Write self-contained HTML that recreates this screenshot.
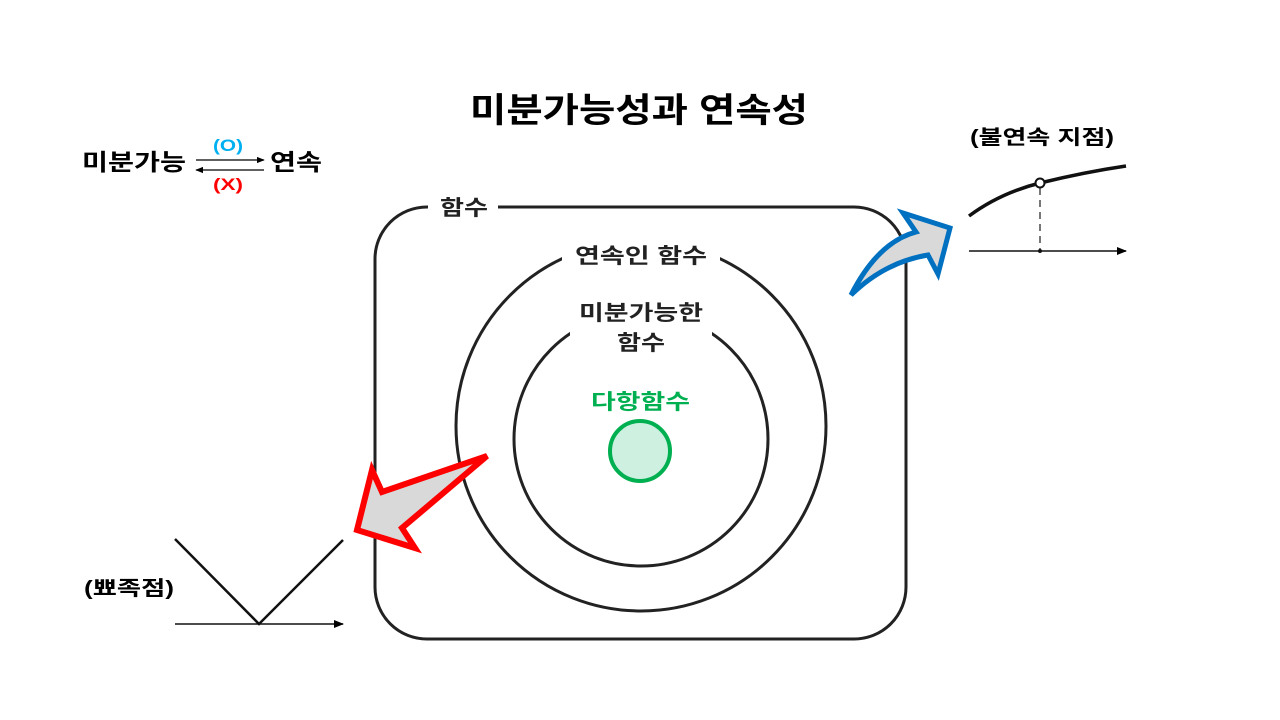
<!DOCTYPE html>
<html><head><meta charset="utf-8"><style>
html,body{margin:0;padding:0;background:#fff;width:1280px;height:720px;overflow:hidden}
svg text{font-family:"Liberation Sans","Noto Sans CJK KR","NanumGothic",sans-serif;font-weight:bold}
</style></head><body>
<svg width="1280" height="720" viewBox="0 0 1280 720" xmlns="http://www.w3.org/2000/svg">
<defs>
<marker id="ah" viewBox="0 0 10 10" refX="9" refY="5" markerWidth="8" markerHeight="8" markerUnits="userSpaceOnUse" orient="auto"><path d="M0,1 L10,5 L0,9 Z" fill="#000"/></marker>
<marker id="ah2" viewBox="0 0 10 10" refX="9" refY="5" markerWidth="14" markerHeight="10" markerUnits="userSpaceOnUse" orient="auto"><path d="M0,1 L10,5 L0,9 Z" fill="#000"/></marker>
</defs>
<text x="470" y="122" font-size="34" textLength="338" lengthAdjust="spacingAndGlyphs" fill="#000">미분가능성과 연속성</text>

<text x="82" y="170" font-size="23" textLength="104" lengthAdjust="spacingAndGlyphs" fill="#000">미분가능</text>
<line x1="196" y1="160" x2="264" y2="160" stroke="#000" stroke-width="1.3" marker-end="url(#ah)"/>
<line x1="264" y1="170" x2="196" y2="170" stroke="#000" stroke-width="1.3" marker-end="url(#ah)"/>
<text x="213" y="151" font-size="17" textLength="30" lengthAdjust="spacingAndGlyphs" fill="#00b0f0">(O)</text>
<text x="213" y="190" font-size="17" textLength="30" lengthAdjust="spacingAndGlyphs" fill="#ff0000">(X)</text>
<text x="270" y="170" font-size="23" textLength="52" lengthAdjust="spacingAndGlyphs" fill="#000">연속</text>

<rect x="375" y="207" width="531" height="432" rx="52" fill="none" stroke="#222" stroke-width="3"/>
<rect x="428" y="192" width="70" height="30" fill="#fff"/>
<text x="440" y="215" font-size="21" textLength="48" lengthAdjust="spacingAndGlyphs" fill="#222">함수</text>

<circle cx="641" cy="426" r="185" fill="none" stroke="#222" stroke-width="3"/>
<rect x="562" y="238" width="158" height="34" fill="#fff"/>
<text x="575" y="263" font-size="21" textLength="132" lengthAdjust="spacingAndGlyphs" fill="#222">연속인 함수</text>

<circle cx="641" cy="439" r="127" fill="none" stroke="#222" stroke-width="3"/>
<rect x="570" y="296" width="142" height="64" fill="#fff"/>
<text x="579" y="320" font-size="21" textLength="124" lengthAdjust="spacingAndGlyphs" fill="#222">미분가능한</text>
<text x="617" y="350" font-size="21" textLength="48" lengthAdjust="spacingAndGlyphs" fill="#222">함수</text>

<text x="591" y="409" font-size="21" textLength="99" lengthAdjust="spacingAndGlyphs" fill="#00b050">다항함수</text>
<circle cx="640" cy="451" r="30" fill="#cdf0e0" stroke="#00b050" stroke-width="4"/>

<path d="M357,530 L372,470 L382,492 L487,456 L402,528 L415,548 Z" fill="#d9d9d9" stroke="#ff0000" stroke-width="6" stroke-linejoin="miter"/>

<path d="M851,295 Q878,242 916,232 L903,213 L950,228 L938,274 L928,255 Q885,262 851,295 Z" fill="#d9d9d9" stroke="#0070c0" stroke-width="5" stroke-linejoin="miter"/>

<text x="970" y="144" font-size="20" textLength="144" lengthAdjust="spacingAndGlyphs" fill="#000">(불연속 지점)</text>
<path d="M969,216 Q1000,193 1040,183 Q1085,172 1126,166" fill="none" stroke="#111" stroke-width="3.5"/>
<line x1="1040" y1="188" x2="1040" y2="251" stroke="#777" stroke-width="2" stroke-dasharray="7,5"/>
<circle cx="1040" cy="183" r="4.5" fill="#fff" stroke="#111" stroke-width="2"/>
<line x1="969" y1="251" x2="1126" y2="251" stroke="#111" stroke-width="1.5" marker-end="url(#ah2)"/>
<circle cx="1040" cy="251" r="2" fill="#111"/>

<text x="84" y="595" font-size="20" textLength="90" lengthAdjust="spacingAndGlyphs" fill="#000">(뾰족점)</text>
<polyline points="175,539 259,624 343,540" fill="none" stroke="#111" stroke-width="2.5"/>
<line x1="175" y1="624" x2="343" y2="624" stroke="#111" stroke-width="1.5" marker-end="url(#ah2)"/>
</svg>
</body></html>
